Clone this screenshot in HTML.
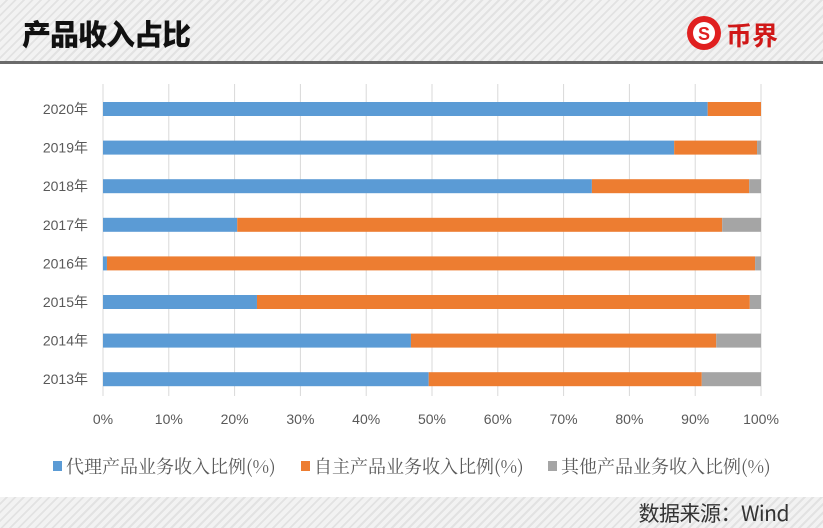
<!DOCTYPE html>
<html><head><meta charset="utf-8"><style>
body{margin:0;width:823px;height:528px;overflow:hidden;background:#fff;font-family:"Liberation Sans","Noto Sans CJK SC",sans-serif;position:relative}
.stripe{background:repeating-linear-gradient(135deg,#f2f2f2 0 4px,#e2e2e2 4px 6px)}
#hdr{position:absolute;left:0;top:0;width:823px;height:61px}
#hdrline{position:absolute;left:0;top:61px;width:823px;height:3px;background:#6a6a6a}
#title{position:absolute;left:22px;top:12px;font-size:29px;font-weight:900;color:#111;font-family:"Noto Sans CJK SC",sans-serif;letter-spacing:-1px}
#ftr{position:absolute;left:0;top:497px;width:823px;height:31px}
#src{position:absolute;right:34px;top:498px;font-size:21px;color:#333;font-family:"Noto Sans CJK SC",sans-serif;letter-spacing:-0.5px}
</style></head><body>
<div id="hdr" class="stripe"></div>
<div id="hdrline"></div>
<div id="title">产品收入占比</div>
<svg style="position:absolute;left:686px;top:14px" width="110" height="40">
<circle cx="18" cy="19" r="17" fill="#e02020"/><circle cx="18" cy="19" r="11" fill="#fff"/>
<text x="18" y="26" text-anchor="middle" font-size="18" font-weight="bold" fill="#e02020" font-family="Liberation Sans,sans-serif">S</text>
<text x="40" y="31" font-size="26" font-weight="bold" fill="#d01818" font-family="Noto Sans CJK SC,sans-serif">币界</text>
</svg>
<div id="ftr" class="stripe"></div>
<div id="src">数据来源：Wind</div>
<svg id="chart" style="position:absolute;left:0;top:0" width="823" height="497"></svg>
<script>
const categories=["2020年","2019年","2018年","2017年","2016年","2015年","2014年","2013年"];
const agency=[91.9,86.8,74.3,20.4,0.6,23.4,46.8,49.5];
const own=[8.1,12.6,23.9,73.7,98.5,74.9,46.4,41.5];
const other=[0,0.6,1.8,5.9,0.9,1.7,6.8,9.0];
const ticks=[0,10,20,30,40,50,60,70,80,90,100];
const seriesNames=["代理产品业务收入比例(%)","自主产品业务收入比例(%)","其他产品业务收入比例(%)"];
const colors=["#5b9bd5","#ed7d31","#a5a5a5"];
const svg=document.getElementById('chart');const NS="http://www.w3.org/2000/svg";
const x0=103,x1=761,yTop=109,step=38.6,bh=14;
const xs=v=>x0+(x1-x0)*v/100;const ys=i=>yTop+i*step;
function mk(t,a){const e=document.createElementNS(NS,t);for(const k in a)e.setAttribute(k,a[k]);svg.appendChild(e);return e;}
ticks.forEach(t=>{
 const l=mk('line',{x1:xs(t),x2:xs(t),y1:84,y2:396,stroke:'#d9d9d9','stroke-width':1});
 
 
 const tx=mk('text',{x:xs(t),y:424,'text-anchor':'middle','font-size':14,fill:'#595959'});tx.textContent=t+'%';
 
 
});
const series=[agency,own,other];
categories.forEach((c,i)=>{
 const tx=mk('text',{x:88,y:ys(i)+5,'text-anchor':'end','font-size':14,fill:'#595959'});tx.textContent=c;
 
 
 let acc=0;
 series.forEach((s,k)=>{
  const r=mk('rect',{x:xs(acc),y:ys(i)-bh/2,width:Math.max(0,xs(acc+s[i])-xs(acc)),height:bh,fill:colors[k]});
  
  
  acc+=s[i];
 });
});
const lx=[53,301,548];
seriesNames.forEach((n,k)=>{
 const r=mk('rect',{x:lx[k],y:461,width:9,height:10,fill:colors[k]});
 
 
 const t=mk('text',{x:lx[k]+13,y:473,'font-size':18,fill:'#595959','font-family':'Noto Serif CJK SC,Liberation Sans,serif'});t.textContent=n;
 
 
});
</script>
</body></html>
